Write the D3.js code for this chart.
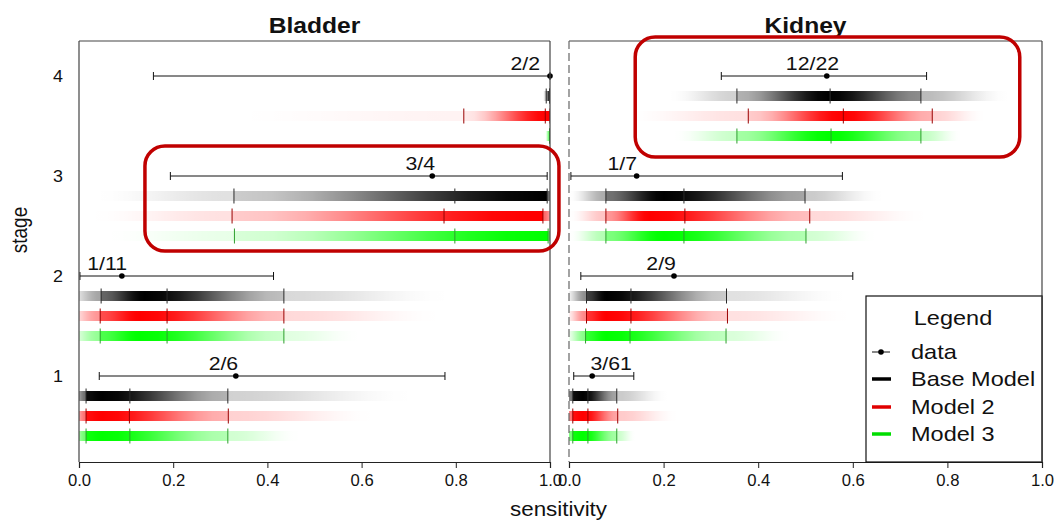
<!DOCTYPE html>
<html><head><meta charset="utf-8">
<script src="https://cdn.jsdelivr.net/npm/d3@7"></script>
<style>
body{margin:0;background:#fff}
svg{display:block}
text{font-family:"Liberation Sans",Arial,Helvetica,sans-serif;fill:#111}
</style>
</head><body>
<svg id="chart" width="1054" height="520"></svg>
<script>
// ---------------- DATA ----------------
const stages = [1, 2, 3, 4];
const panelNames = ["Bladder", "Kidney"];
const modelNames = ["Base Model", "Model 2", "Model 3"];
const legendLabels = ["data", "Base Model", "Model 2", "Model 3"];
const xTickValues = [0, 0.2, 0.4, 0.6, 0.8, 1.0];
const yTickValues = [1, 2, 3, 4];
const xAxisTitle = "sensitivity";
const yAxisTitle = "stage";
const legendTitle = "Legend";

// observed data (per stage 1..4)
const bladderLabels = ["2/6", "1/11", "3/4", "2/2"];
const bladderObs = [0.333, 0.091, 0.750, 1.000];
const bladderCILow = [0.043, 0.002, 0.194, 0.158];
const bladderCIHigh = [0.777, 0.413, 0.994, 1.000];
const bladderLabelRight = [0.338, 0.102, 0.756, 0.979];

const kidneyLabels = ["3/61", "2/9", "1/7", "12/22"];
const kidneyObs = [0.049, 0.222, 0.143, 0.545];
const kidneyCILow = [0.010, 0.025, 0.004, 0.322];
const kidneyCIHigh = [0.137, 0.600, 0.578, 0.756];
const kidneyLabelRight = [0.133, 0.226, 0.144, 0.571];

// model posterior quantiles [lower, median, upper] per stage 1..4
const bladderBaseQ = [[0.015, 0.108, 0.316], [0.047, 0.187, 0.435], [0.329, 0.798, 0.994], [0.992, 0.999, 1.000]];
const bladderM2Q   = [[0.015, 0.107, 0.317], [0.045, 0.187, 0.435], [0.325, 0.775, 0.985], [0.817, 0.990, 1.000]];
const bladderM3Q   = [[0.015, 0.108, 0.316], [0.045, 0.187, 0.435], [0.330, 0.798, 0.996], [0.999, 1.000, 1.000]];
const kidneyBaseQ  = [[0.008, 0.040, 0.101], [0.037, 0.131, 0.333], [0.078, 0.243, 0.499], [0.355, 0.552, 0.744]];
const kidneyM2Q    = [[0.008, 0.040, 0.103], [0.037, 0.131, 0.335], [0.078, 0.245, 0.509], [0.379, 0.580, 0.768]];
const kidneyM3Q    = [[0.008, 0.040, 0.101], [0.035, 0.129, 0.332], [0.078, 0.243, 0.501], [0.355, 0.554, 0.744]];

// density shading: [fade start, peak, fade end, intensity at lower, intensity at upper]
const bladderBaseShade = [[-0.02, 0.05, 0.71, 0.95, 0.30], [-0.03, 0.14, 0.79, 0.60, 0.25], [0.03, 0.99, 1.02, 0.20, 1.00], [0.985, 1.00, 1.02, 0.40, 1.00]];
const bladderM2Shade   = [[-0.02, 0.05, 0.63, 0.95, 0.30], [-0.03, 0.13, 0.77, 0.70, 0.25], [0.02, 0.95, 1.02, 0.20, 1.00], [0.30, 0.997, 1.02, 0.08, 1.00]];
const bladderM3Shade   = [[-0.02, 0.05, 0.47, 0.95, 0.30], [-0.03, 0.13, 0.60, 0.70, 0.20], [0.05, 0.99, 1.02, 0.15, 1.00], [0.99, 1.00, 1.02, 1.00, 1.00]];
const kidneyBaseShade  = [[-0.02, 0.03, 0.21, 0.95, 0.35], [-0.01, 0.08, 0.59, 0.75, 0.20], [0.00, 0.20, 0.665, 0.55, 0.35], [0.21, 0.55, 0.93, 0.30, 0.45]];
const kidneyM2Shade    = [[-0.02, 0.03, 0.23, 0.95, 0.35], [-0.01, 0.08, 0.60, 0.80, 0.20], [0.00, 0.17, 0.76, 0.40, 0.25], [0.12, 0.58, 0.88, 0.20, 0.30]];
const kidneyM3Shade    = [[-0.02, 0.03, 0.14, 0.95, 0.35], [-0.01, 0.08, 0.47, 0.80, 0.25], [0.00, 0.20, 0.65, 0.50, 0.30], [0.22, 0.55, 0.83, 0.35, 0.40]];

// highlight boxes (in data units)
const highlightPanel = ["Bladder", "Kidney"];
const highlightX = [[0.14, 1.019], [0.14, 0.953]];
const highlightStage = [[3.30, 2.25], [4.39, 3.19]];

// ---------------- STYLE / LAYOUT ----------------
const modelColors = ["#000000", "#ff0000", "#00ff00"];
const tickColors = ["#2a2a2a", "#990000", "#2e9e2e"];
const legendColors = ["#000000", "#e00000", "#00dd00"];
const panelRanges = [[79, 550], [569, 1042]];
const plotTop = 41, plotBottom = 462;
const SX = 1.12; // horizontal stretch of the source's text
const barH = 10, tickH = 15;

const panels = [
  {name: panelNames[0], labels: bladderLabels, obs: bladderObs, lo: bladderCILow, hi: bladderCIHigh, lr: bladderLabelRight,
   q: [bladderBaseQ, bladderM2Q, bladderM3Q], shade: [bladderBaseShade, bladderM2Shade, bladderM3Shade]},
  {name: panelNames[1], labels: kidneyLabels, obs: kidneyObs, lo: kidneyCILow, hi: kidneyCIHigh, lr: kidneyLabelRight,
   q: [kidneyBaseQ, kidneyM2Q, kidneyM3Q], shade: [kidneyBaseShade, kidneyM2Shade, kidneyM3Shade]}
];

const svg = d3.select("#chart");
const defs = svg.append("defs");
const y = d3.scaleLinear().domain([0.14, 4.35]).range([plotBottom, plotTop]);

function stretchText(sel, x, yy, extra) {
  return sel.attr("transform", `translate(${x},${yy})${extra || ""} scale(${SX},1)`);
}

function shadeStops(q, sh) {
  const [lo, , hi] = q;
  const [fs, pk, fe, aLo, aHi] = sh;
  const out = 0.6;
  let pts = [[fs, 0], [lo, aLo * out], [lo, aLo], [pk, 1], [hi, aHi], [hi, aHi * out], [fe, 0]];
  pts = pts.map((p, i) => [p[0], p[1], i]).sort((a, b) => a[0] - b[0] || a[2] - b[2]);
  const res = [];
  for (let i = 0; i < pts.length; i++) {
    res.push([pts[i][0], pts[i][1]]);
    if (i < pts.length - 1 && pts[i + 1][0] > pts[i][0]) {
      const [x0, a0] = pts[i], [x1, a1] = pts[i + 1];
      for (let k = 1; k < 8; k++) {
        const t = k / 8, e = (1 - Math.cos(Math.PI * t)) / 2;
        res.push([x0 + (x1 - x0) * t, a0 + (a1 - a0) * e]);
      }
    }
  }
  return res;
}

panels.forEach((p, pi) => {
  const x = d3.scaleLinear().domain([0, 1]).range(panelRanges[pi]);
  const g = svg.append("g");
  const clipId = "clip" + pi;
  defs.append("clipPath").attr("id", clipId).append("rect")
    .attr("x", x(0)).attr("y", plotTop).attr("width", x(1) - x(0)).attr("height", plotBottom - plotTop);

  const bars = g.append("g").attr("clip-path", `url(#${clipId})`);
  stages.forEach((s, si) => {
    modelNames.forEach((m, mi) => {
      const q = p.q[mi][si], sh = p.shade[mi][si];
      const stops = shadeStops(q, sh);
      const gx1 = x(sh[0]), gx2 = x(sh[2]);
      const gid = `grad${pi}_${si}_${mi}`;
      const lg = defs.append("linearGradient").attr("id", gid)
        .attr("gradientUnits", "userSpaceOnUse").attr("x1", gx1).attr("x2", gx2).attr("y1", 0).attr("y2", 0);
      stops.forEach(st => {
        lg.append("stop").attr("offset", Math.max(0, Math.min(1, (x(st[0]) - gx1) / (gx2 - gx1))))
          .attr("stop-color", modelColors[mi]).attr("stop-opacity", Math.max(0, Math.min(1, st[1])));
      });
      const yc = y(s - 0.2 * (mi + 1));
      bars.append("rect")
        .attr("x", gx1).attr("width", gx2 - gx1)
        .attr("y", yc - barH / 2).attr("height", barH)
        .attr("fill", `url(#${gid})`);
      bars.selectAll(null).data(q).join("line")
        .attr("x1", d => x(d)).attr("x2", d => x(d))
        .attr("y1", yc - tickH / 2).attr("y2", yc + tickH / 2)
        .attr("stroke", tickColors[mi]).attr("stroke-width", 1);
    });
  });

  // observed data with intervals
  stages.forEach((s, si) => {
    const yc = y(s);
    g.append("line").attr("x1", x(p.lo[si])).attr("x2", x(p.hi[si])).attr("y1", yc).attr("y2", yc)
      .attr("stroke", "#111").attr("stroke-width", 1);
    [p.lo[si], p.hi[si]].forEach(v => {
      g.append("line").attr("x1", x(v)).attr("x2", x(v)).attr("y1", yc - 4).attr("y2", yc + 4)
        .attr("stroke", "#111").attr("stroke-width", 1);
    });
    g.append("circle").attr("cx", x(p.obs[si])).attr("cy", yc).attr("r", 2.8).attr("fill", "#000");
    stretchText(g.append("text").text(p.labels[si]).attr("text-anchor", "end").attr("font-size", 19),
      x(p.lr[si]), yc - 6);
  });

  // frame
  const fr = g.append("g").attr("stroke", "#444").attr("stroke-width", 1.2).attr("fill", "none");
  fr.append("line").attr("x1", x(0)).attr("x2", x(1)).attr("y1", plotTop).attr("y2", plotTop);
  fr.append("line").attr("x1", x(1)).attr("x2", x(1)).attr("y1", plotTop).attr("y2", plotBottom);
  const left = fr.append("line").attr("x1", x(0)).attr("x2", x(0)).attr("y1", plotTop).attr("y2", plotBottom);
  if (pi === 1) left.attr("stroke-dasharray", "8,4").attr("stroke", "#666");

  // x axis
  const ax = g.append("g").attr("transform", `translate(0,${plotBottom})`)
    .call(d3.axisBottom(x).tickValues(xTickValues).tickFormat(d3.format(".1f")).tickSize(6).tickPadding(7));
  ax.select(".domain").attr("stroke", "#222").attr("stroke-width", 1.2);
  ax.selectAll(".tick line").attr("stroke", "#222");
  ax.selectAll(".tick text").attr("font-size", 16).attr("fill", "#111")
    .attr("font-family", '"Liberation Sans",Arial,sans-serif').attr("transform", `scale(1.04,1)`);

  // title
  stretchText(svg.append("text").text(p.name).attr("text-anchor", "middle")
    .attr("font-size", 22).attr("font-weight", "bold"), (x(0) + x(1)) / 2, 33);

  // highlight box
  const hi = highlightPanel.indexOf(p.name);
  if (hi >= 0) {
    const [hx0, hx1] = highlightX[hi], [hs0, hs1] = highlightStage[hi];
    svg.append("rect").attr("x", x(hx0)).attr("y", y(hs0))
      .attr("width", x(hx1) - x(hx0)).attr("height", y(hs1) - y(hs0))
      .attr("rx", 20).attr("ry", 20).attr("fill", "none")
      .attr("stroke", "#c00000").attr("stroke-width", 3.5);
  }
});

// y axis labels
yTickValues.forEach(v => {
  stretchText(svg.append("text").text(v).attr("text-anchor", "middle").attr("font-size", 16)
    .attr("dominant-baseline", "central"), 58, y(v) + 1);
});
// axis titles
stretchText(svg.append("text").text(xAxisTitle).attr("text-anchor", "middle").attr("font-size", 20),
  (panelRanges[0][0] + panelRanges[1][1]) / 2 - 2, 516);
svg.append("text").text(yAxisTitle).attr("text-anchor", "middle").attr("font-size", 19)
  .attr("transform", `translate(27,230) rotate(-90) scale(1,${SX})`);

// legend
const lgx = 866, lgy = 296;
const lgG = svg.append("g");
lgG.append("rect").attr("x", lgx).attr("y", lgy).attr("width", panelRanges[1][1] - lgx)
  .attr("height", plotBottom - lgy).attr("fill", "#fff").attr("stroke", "#111").attr("stroke-width", 1.2);
stretchText(lgG.append("text").text(legendTitle).attr("text-anchor", "middle").attr("font-size", 21), 953, 325);
const legendRowY = [352, 379, 407, 434];
legendLabels.forEach((lab, i) => {
  const yy = legendRowY[i];
  if (i === 0) {
    lgG.append("line").attr("x1", 872).attr("x2", 890).attr("y1", yy).attr("y2", yy).attr("stroke", "#111").attr("stroke-width", 1);
    lgG.append("circle").attr("cx", 881).attr("cy", yy).attr("r", 2.8).attr("fill", "#000");
  } else {
    lgG.append("line").attr("x1", 872).attr("x2", 891).attr("y1", yy).attr("y2", yy)
      .attr("stroke", legendColors[i - 1]).attr("stroke-width", 3.5);
  }
  stretchText(lgG.append("text").text(lab).attr("font-size", 21), 911, yy + 7);
});
// redraw panel border over legend's right edge
svg.append("line").attr("x1", panelRanges[1][1]).attr("x2", panelRanges[1][1]).attr("y1", lgy).attr("y2", plotBottom)
  .attr("stroke", "#444").attr("stroke-width", 1.2);
</script>
</body></html>
